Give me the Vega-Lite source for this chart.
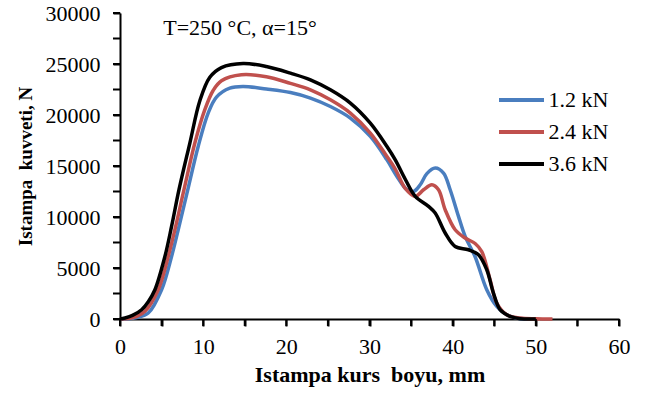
{
  "$schema": "https://vega.github.io/schema/vega-lite/v6.json",
  "width": 499,
  "height": 306,
  "autosize": {"type": "none"},
  "padding": {"left": 120, "top": 13, "right": 28, "bottom": 75},
  "background": "white",
  "config": {
    "view": {"stroke": null},
    "font": "Liberation Serif",
    "axis": {
      "domainColor": "black",
      "domainWidth": 2,
      "grid": false,
      "ticks": true,
      "tickSize": 7,
      "tickWidth": 2,
      "tickColor": "black",
      "labelFont": "Liberation Serif",
      "labelFontSize": 22,
      "labelColor": "black",
      "titleFont": "Liberation Serif",
      "titleFontSize": 22,
      "titleFontWeight": "bold",
      "titleColor": "black"
    }
  },
  "datasets": {
    "curves": [
      {"s": "1.2 kN", "x": 0, "y": 0},
      {"s": "1.2 kN", "x": 1, "y": 20},
      {"s": "1.2 kN", "x": 2, "y": 150},
      {"s": "1.2 kN", "x": 3.4, "y": 590},
      {"s": "1.2 kN", "x": 5.0, "y": 2870},
      {"s": "1.2 kN", "x": 6.2, "y": 6130},
      {"s": "1.2 kN", "x": 7.0, "y": 8750},
      {"s": "1.2 kN", "x": 8.1, "y": 12500},
      {"s": "1.2 kN", "x": 9.4, "y": 16910},
      {"s": "1.2 kN", "x": 10.6, "y": 20190},
      {"s": "1.2 kN", "x": 11.6, "y": 21760},
      {"s": "1.2 kN", "x": 13.2, "y": 22640},
      {"s": "1.2 kN", "x": 14.8, "y": 22800},
      {"s": "1.2 kN", "x": 17.6, "y": 22550},
      {"s": "1.2 kN", "x": 20.5, "y": 22200},
      {"s": "1.2 kN", "x": 22.9, "y": 21660},
      {"s": "1.2 kN", "x": 25.3, "y": 20830},
      {"s": "1.2 kN", "x": 27.7, "y": 19700},
      {"s": "1.2 kN", "x": 30.1, "y": 17900},
      {"s": "1.2 kN", "x": 32.1, "y": 15600},
      {"s": "1.2 kN", "x": 33.3, "y": 13980},
      {"s": "1.2 kN", "x": 34.5, "y": 12670},
      {"s": "1.2 kN", "x": 35.3, "y": 12500},
      {"s": "1.2 kN", "x": 36.1, "y": 13160},
      {"s": "1.2 kN", "x": 36.9, "y": 14250},
      {"s": "1.2 kN", "x": 37.9, "y": 14800},
      {"s": "1.2 kN", "x": 38.9, "y": 14310},
      {"s": "1.2 kN", "x": 39.7, "y": 12670},
      {"s": "1.2 kN", "x": 40.7, "y": 10060},
      {"s": "1.2 kN", "x": 41.5, "y": 8100},
      {"s": "1.2 kN", "x": 42.7, "y": 6100},
      {"s": "1.2 kN", "x": 44.1, "y": 2870},
      {"s": "1.2 kN", "x": 45.3, "y": 1230},
      {"s": "1.2 kN", "x": 46.5, "y": 420},
      {"s": "1.2 kN", "x": 47.6, "y": 100},
      {"s": "1.2 kN", "x": 49, "y": 0},

      {"s": "2.4 kN", "x": 0, "y": 0},
      {"s": "2.4 kN", "x": 1, "y": 40},
      {"s": "2.4 kN", "x": 2, "y": 250},
      {"s": "2.4 kN", "x": 3, "y": 750},
      {"s": "2.4 kN", "x": 4.6, "y": 2870},
      {"s": "2.4 kN", "x": 5.8, "y": 6130},
      {"s": "2.4 kN", "x": 6.6, "y": 8750},
      {"s": "2.4 kN", "x": 7.7, "y": 12700},
      {"s": "2.4 kN", "x": 9.0, "y": 17250},
      {"s": "2.4 kN", "x": 10.2, "y": 20520},
      {"s": "2.4 kN", "x": 11.2, "y": 22400},
      {"s": "2.4 kN", "x": 12.2, "y": 23350},
      {"s": "2.4 kN", "x": 14.6, "y": 23940},
      {"s": "2.4 kN", "x": 17.6, "y": 23750},
      {"s": "2.4 kN", "x": 20.5, "y": 23100},
      {"s": "2.4 kN", "x": 22.9, "y": 22470},
      {"s": "2.4 kN", "x": 25.3, "y": 21490},
      {"s": "2.4 kN", "x": 27.7, "y": 20190},
      {"s": "2.4 kN", "x": 30.1, "y": 18230},
      {"s": "2.4 kN", "x": 32.1, "y": 15930},
      {"s": "2.4 kN", "x": 33.1, "y": 14700},
      {"s": "2.4 kN", "x": 34.3, "y": 12800},
      {"s": "2.4 kN", "x": 35.5, "y": 12020},
      {"s": "2.4 kN", "x": 36.5, "y": 12670},
      {"s": "2.4 kN", "x": 37.5, "y": 13160},
      {"s": "2.4 kN", "x": 38.3, "y": 12670},
      {"s": "2.4 kN", "x": 39.1, "y": 10710},
      {"s": "2.4 kN", "x": 40.3, "y": 8750},
      {"s": "2.4 kN", "x": 41.5, "y": 7940},
      {"s": "2.4 kN", "x": 42.7, "y": 7400},
      {"s": "2.4 kN", "x": 43.5, "y": 6600},
      {"s": "2.4 kN", "x": 44.5, "y": 3850},
      {"s": "2.4 kN", "x": 45.3, "y": 1570},
      {"s": "2.4 kN", "x": 46.5, "y": 420},
      {"s": "2.4 kN", "x": 48.1, "y": 100},
      {"s": "2.4 kN", "x": 50, "y": 20},
      {"s": "2.4 kN", "x": 52, "y": 0},

      {"s": "3.6 kN", "x": 0, "y": 0},
      {"s": "3.6 kN", "x": 0.6, "y": 100},
      {"s": "3.6 kN", "x": 1.5, "y": 350},
      {"s": "3.6 kN", "x": 2.6, "y": 910},
      {"s": "3.6 kN", "x": 3.4, "y": 1700},
      {"s": "3.6 kN", "x": 4.2, "y": 2870},
      {"s": "3.6 kN", "x": 5.4, "y": 6130},
      {"s": "3.6 kN", "x": 6.2, "y": 9070},
      {"s": "3.6 kN", "x": 7.1, "y": 12700},
      {"s": "3.6 kN", "x": 8.4, "y": 17250},
      {"s": "3.6 kN", "x": 9.6, "y": 21400},
      {"s": "3.6 kN", "x": 10.8, "y": 23700},
      {"s": "3.6 kN", "x": 12.2, "y": 24650},
      {"s": "3.6 kN", "x": 14.8, "y": 25050},
      {"s": "3.6 kN", "x": 17.6, "y": 24750},
      {"s": "3.6 kN", "x": 20.5, "y": 24100},
      {"s": "3.6 kN", "x": 22.9, "y": 23450},
      {"s": "3.6 kN", "x": 25.3, "y": 22470},
      {"s": "3.6 kN", "x": 27.7, "y": 21170},
      {"s": "3.6 kN", "x": 30.1, "y": 19200},
      {"s": "3.6 kN", "x": 32.1, "y": 16910},
      {"s": "3.6 kN", "x": 33.1, "y": 15600},
      {"s": "3.6 kN", "x": 34.3, "y": 13700},
      {"s": "3.6 kN", "x": 35.5, "y": 12020},
      {"s": "3.6 kN", "x": 37.1, "y": 11035},
      {"s": "3.6 kN", "x": 37.9, "y": 10390},
      {"s": "3.6 kN", "x": 39.1, "y": 8430},
      {"s": "3.6 kN", "x": 40.3, "y": 7110},
      {"s": "3.6 kN", "x": 41.9, "y": 6790},
      {"s": "3.6 kN", "x": 43.1, "y": 6300},
      {"s": "3.6 kN", "x": 44.1, "y": 4830},
      {"s": "3.6 kN", "x": 44.9, "y": 2550},
      {"s": "3.6 kN", "x": 45.7, "y": 910},
      {"s": "3.6 kN", "x": 46.9, "y": 250},
      {"s": "3.6 kN", "x": 48.1, "y": 30},
      {"s": "3.6 kN", "x": 50, "y": 0}
    ],
    "note": [
      {"x": 5.2, "y": 28550, "label": "T=250 °C, α=15°"}
    ],
    "xticks": [
      {"x": 0}, {"x": 5}, {"x": 10}, {"x": 15}, {"x": 20}, {"x": 25}, {"x": 30},
      {"x": 35}, {"x": 40}, {"x": 45}, {"x": 50}, {"x": 55}, {"x": 60}
    ],
    "yticks": [
      {"y": 0}, {"y": 2500}, {"y": 5000}, {"y": 7500}, {"y": 10000}, {"y": 12500}, {"y": 15000},
      {"y": 17500}, {"y": 20000}, {"y": 22500}, {"y": 25000}, {"y": 27500}, {"y": 30000}
    ]
  },
  "layer": [
    {
      "data": {"name": "curves"},
      "mark": {"type": "line", "interpolate": "catmull-rom", "strokeWidth": 3.5},
      "encoding": {
        "x": {
          "field": "x",
          "type": "quantitative",
          "scale": {"domain": [0, 60], "nice": false},
          "axis": {
            "title": "Istampa kurs\u00a0 boyu, mm",
            "values": [0, 5, 10, 15, 20, 25, 30, 35, 40, 45, 50, 55, 60],
            "labelExpr": "datum.value % 10 === 0 ? datum.label : ''",
            "labelPadding": 10,
            "titlePadding": 7,
            "labelFlush": false
          }
        },
        "y": {
          "field": "y",
          "type": "quantitative",
          "scale": {"domain": [0, 30000], "nice": false},
          "axis": {
            "title": "Istampa\u00a0 kuvveti, N",
            "titleFontSize": 19,
            "format": "d",
            "values": [0, 2500, 5000, 7500, 10000, 12500, 15000, 17500, 20000, 22500, 25000, 27500, 30000],
            "labelExpr": "datum.value % 5000 === 0 ? datum.label : ''",
            "labelPadding": 13,
            "titlePadding": 10,
            "labelFlush": false
          }
        },
        "color": {
          "field": "s",
          "type": "nominal",
          "scale": {"domain": ["1.2 kN", "2.4 kN", "3.6 kN"], "range": ["#4A7EBF", "#C0504D", "#000000"]},
          "legend": {
            "title": null,
            "orient": "none",
            "legendX": 384.5,
            "legendY": 70,
            "padding": 0,
            "symbolType": "M-1.5,0H1.5",
            "symbolSize": 900,
            "symbolStrokeWidth": 4,
            "symbolFillColor": "transparent",
            "labelFont": "Liberation Serif",
            "labelFontSize": 22,
            "labelColor": "black",
            "labelOffset": 10,
            "rowPadding": 4
          }
        }
      }
    },
    {
      "data": {"name": "xticks"},
      "mark": {"type": "tick", "orient": "vertical", "color": "black", "size": 7, "thickness": 2, "yOffset": 3.5, "opacity": 1},
      "encoding": {
        "x": {"field": "x", "type": "quantitative"},
        "y": {"datum": 0, "type": "quantitative"}
      }
    },
    {
      "data": {"name": "yticks"},
      "mark": {"type": "tick", "orient": "horizontal", "color": "black", "size": 7, "thickness": 2, "xOffset": -3.5, "opacity": 1},
      "encoding": {
        "y": {"field": "y", "type": "quantitative"},
        "x": {"datum": 0, "type": "quantitative"}
      }
    },
    {
      "data": {"name": "note"},
      "mark": {"type": "text", "align": "left", "baseline": "middle", "font": "Liberation Serif", "fontSize": 22, "color": "black"},
      "encoding": {
        "x": {"field": "x", "type": "quantitative"},
        "y": {"field": "y", "type": "quantitative"},
        "text": {"field": "label"}
      }
    }
  ]
}
